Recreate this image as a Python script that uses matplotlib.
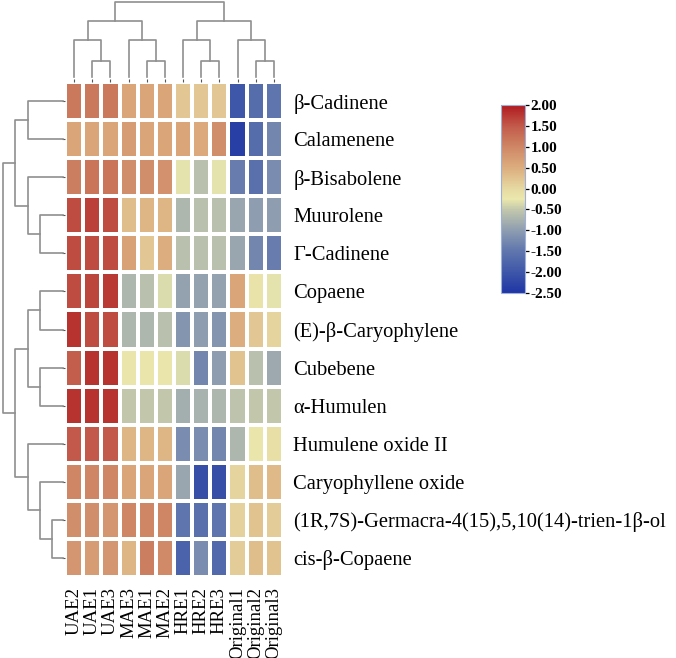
import numpy as np
import matplotlib
matplotlib.use("Agg")
import matplotlib.pyplot as plt
from matplotlib.colors import LinearSegmentedColormap, Normalize

plt.rcParams['font.family'] = ['Liberation Serif', 'DejaVu Serif']
plt.rcParams['axes.unicode_minus'] = False

# column / row labels (already in clustered order)
samples = ["UAE2", "UAE1", "UAE3", "MAE3", "MAE1", "MAE2",
           "HRE1", "HRE2", "HRE3", "Original1", "Original2", "Original3"]
compounds = ["β-Cadinene", "Calamenene", "β-Bisabolene", "Muurolene", "Γ-Cadinene",
             "Copaene", "(E)-β-Caryophylene", "Cubebene", "α-Humulen",
             "Humulene oxide II", "Caryophyllene oxide",
             "(1R,7S)-Germacra-4(15),5,10(14)-trien-1β-ol", "cis-β-Copaene"]

# z-scores
values = np.array([
    [1.15, 1.15, 1.15, 0.60, 0.60, 0.60, 0.20, 0.20, 0.20, -2.00, -1.65, -1.50],
    [0.60, 0.60, 0.60, 0.70, 0.60, 0.60, 0.60, 0.55, 0.90, -2.35, -1.65, -1.30],
    [1.10, 1.20, 1.20, 0.90, 0.90, 0.85, -0.30, -0.60, -0.30, -1.40, -1.60, -1.20],
    [1.60, 1.70, 1.60, 0.30, 0.40, 0.40, -0.70, -0.60, -0.60, -0.90, -1.00, -1.00],
    [1.60, 1.60, 1.60, 0.65, 0.20, 0.50, -0.60, -0.60, -0.60, -0.90, -1.30, -1.40],
    [1.60, 1.65, 1.75, -0.70, -0.60, -0.35, -0.95, -0.95, -0.95, 0.60, -0.15, -0.30],
    [1.80, 1.60, 1.60, -0.70, -0.70, -0.60, -1.10, -1.00, -1.10, 0.50, 0.20, 0.05],
    [1.45, 1.80, 1.80, -0.20, -0.20, -0.20, -0.35, -1.30, -1.00, 0.25, -0.60, -0.85],
    [1.80, 1.80, 1.80, -0.50, -0.50, -0.50, -0.80, -0.75, -0.70, -0.55, -0.50, -0.50],
    [1.50, 1.50, 1.50, 0.40, 0.40, 0.40, -1.20, -1.20, -1.30, -0.70, -0.20, -0.10],
    [1.00, 1.00, 1.00, 0.60, 0.60, 0.60, -0.90, -2.10, -2.10, 0.05, 0.30, 0.35],
    [0.90, 0.90, 0.80, 1.00, 1.00, 1.00, -1.50, -1.60, -1.50, 0.10, 0.25, 0.15],
    [0.80, 0.70, 0.80, 0.40, 1.10, 0.95, -1.80, -1.20, -1.70, 0.15, 0.30, 0.25],
])

# dendrograms as (left, right, height); ints are leaf indices
col_tree = (((0, (1, 2, 16), 37), (3, (4, 5, 16), 37), 56),
            ((6, (7, 8, 16), 37), (9, (10, 11, 16), 37), 56), 75)
row_tree = (((0, 1, 36), (2, (3, 4, 23), 36), 49),
            (((5, 6, 23), (7, 8, 23), 36), (9, (10, (11, 12, 11), 23), 36), 49), 61)

vmin, vmax = -2.5, 2.0
anchors = [(-2.5, "#1f35a5"), (-2.0, "#3f57a8"), (-1.5, "#5f76ad"), (-1.0, "#8e9db0"),
           (-0.5, "#c3c8ac"), (-0.25, "#ebe8ad"), (0.0, "#e6d9a2"), (0.5, "#dcad7e"),
           (1.0, "#cf8766"), (1.5, "#c25a4a"), (2.0, "#b01a20")]
cmap = LinearSegmentedColormap.from_list(
    "heat", [((v - vmin) / (vmax - vmin), c) for v, c in anchors])
norm = Normalize(vmin=vmin, vmax=vmax)

W, H = 676, 658
fig = plt.figure(figsize=(W / 100, H / 100), dpi=100)


def fax(x0, y0, x1, y1):
    return fig.add_axes([x0 / W, 1 - y1 / H, (x1 - x0) / W, (y1 - y0) / H])


ax = fax(65, 82, 283, 577)
ax.pcolormesh(values, cmap=cmap, norm=norm, edgecolors="white", linewidth=1.6)
ax.set_xlim(0, len(samples))
ax.set_ylim(len(compounds), 0)
ax.set_xticks(np.arange(len(samples)) + 0.5)
ax.set_xticklabels(samples, rotation=90, fontsize=13.5)
ax.set_yticks(np.arange(len(compounds)) + 0.5)
ax.set_yticklabels(compounds, fontsize=14.8)
ax.tick_params(axis="y", left=True, right=False, labelleft=False, labelright=True,
               length=2.5, width=0.8, color="#555555", pad=5)
ax.tick_params(axis="x", top=True, bottom=False, labeltop=False, labelbottom=True,
               length=2.5, width=0.8, color="#555555", pad=5)
for s in ax.spines.values():
    s.set_visible(False)


def draw_tree(axd, node, orient):
    if isinstance(node, int):
        return node + 0.5, 0
    a, b, h = node
    pa, ha = draw_tree(axd, a, orient)
    pb, hb = draw_tree(axd, b, orient)
    xs = [pa, pa, pb, pb]
    ys = [ha, h, h, hb]
    if orient == "top":
        axd.plot(xs, ys, color="#8f8f8f", lw=1.2, clip_on=False)
    else:
        axd.plot(ys, xs, color="#8f8f8f", lw=1.2, clip_on=False)
    return (pa + pb) / 2, h


axc = fax(65, 2, 283, 77)
draw_tree(axc, col_tree, "top")
axc.set_xlim(0, len(samples))
axc.set_ylim(0, 75)
axc.axis("off")

axr = fax(3, 82, 63, 577)
draw_tree(axr, row_tree, "left")
axr.set_xlim(61, 0)
axr.set_ylim(len(compounds), 0)
axr.axis("off")

cax = fax(501, 105, 525, 293)
cb = fig.colorbar(plt.cm.ScalarMappable(norm=norm, cmap=cmap), cax=cax)
cb.set_ticks(np.arange(-2.5, 2.01, 0.5))
cb.ax.yaxis.set_major_formatter(matplotlib.ticker.FormatStrFormatter("%.2f"))
cb.ax.tick_params(length=3, width=0.9, pad=1, labelsize=11)
for t in cb.ax.get_yticklabels():
    t.set_fontweight("bold")
cb.outline.set_edgecolor("#9fb0d8")
cb.outline.set_linewidth(0.8)

fig.savefig("out.png", dpi=100)
